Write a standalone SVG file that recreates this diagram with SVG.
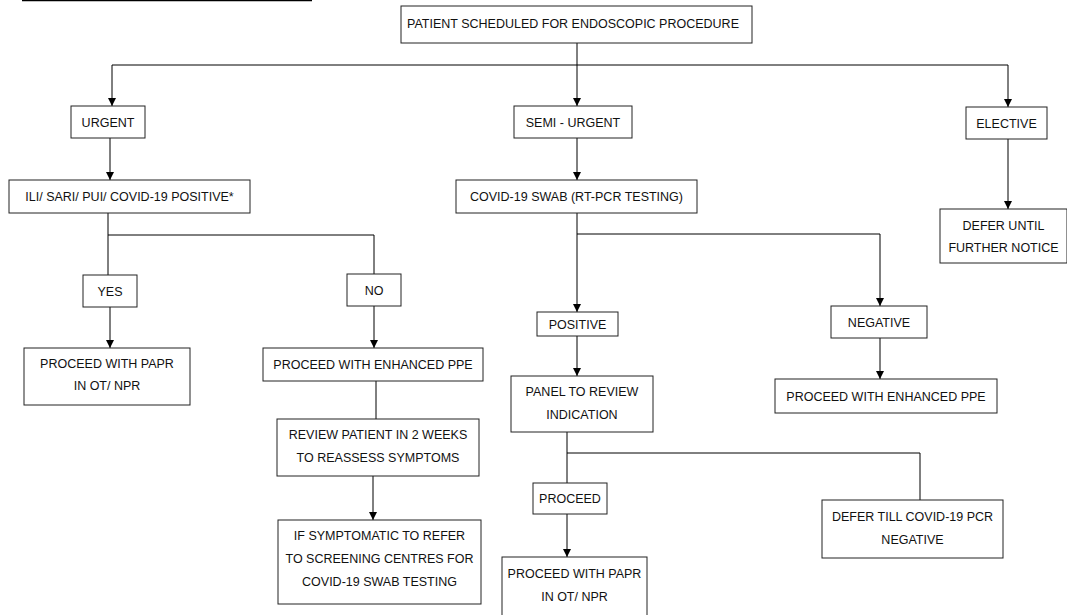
<svg xmlns="http://www.w3.org/2000/svg" width="1067" height="615" viewBox="0 0 1067 615">
<style>
.box rect{fill:#fff;stroke:#222;stroke-width:1}
.box text{font-family:"Liberation Sans",Arial,sans-serif;font-size:12.5px;fill:#111;text-anchor:middle}
.conn path{fill:none;stroke:#000;stroke-width:1}
</style>
<defs>
<marker id="ah" markerUnits="userSpaceOnUse" markerWidth="8" markerHeight="8" refX="8" refY="4" orient="auto">
<path d="M0,0 L8,4 L0,8 z" fill="#000"/>
</marker>
</defs>
<rect width="1067" height="615" fill="#fff"/>
<line x1="22" y1="0.5" x2="312" y2="0.5" stroke="#000" stroke-width="1.5"/>
<g class="conn">
<path d="M577,43 V65"/>
<path d="M112,65 H1008"/>
<path d="M112,65 V106" marker-end="url(#ah)"/>
<path d="M577,65 V106" marker-end="url(#ah)"/>
<path d="M1008,65 V107" marker-end="url(#ah)"/>
<path d="M110,138 V180" marker-end="url(#ah)"/>
<path d="M577,138 V180" marker-end="url(#ah)"/>
<path d="M1008,139 V209" marker-end="url(#ah)"/>
<path d="M108,213 V275"/>
<path d="M108,235 H374 V274"/>
<path d="M110,307 V348" marker-end="url(#ah)"/>
<path d="M374,306 V348" marker-end="url(#ah)"/>
<path d="M376,381 V419"/>
<path d="M373,476 V520" marker-end="url(#ah)"/>
<path d="M577,213 V312" marker-end="url(#ah)"/>
<path d="M577,234 H880 V306" marker-end="url(#ah)"/>
<path d="M577,336 V376" marker-end="url(#ah)"/>
<path d="M880,338 V379" marker-end="url(#ah)"/>
<path d="M567,432 V483"/>
<path d="M567,453 H920 V500"/>
<path d="M567,514 V557" marker-end="url(#ah)"/>
</g>
<g id="n-patient" class="box"><rect x="401" y="6" width="351" height="37"/><text x="573" y="27.5">PATIENT SCHEDULED FOR ENDOSCOPIC PROCEDURE</text></g>
<g id="n-urgent" class="box"><rect x="71" y="106" width="74" height="32"/><text x="108" y="126.5">URGENT</text></g>
<g id="n-semi" class="box"><rect x="514" y="106" width="118" height="32"/><text x="573" y="126.5">SEMI - URGENT</text></g>
<g id="n-elective" class="box"><rect x="966" y="107" width="81" height="32"/><text x="1006.5" y="127.5">ELECTIVE</text></g>
<g id="n-ili" class="box"><rect x="9" y="180" width="241" height="33"/><text x="129.5" y="201">ILI/ SARI/ PUI/ COVID-19 POSITIVE*</text></g>
<g id="n-swab" class="box"><rect x="456" y="180" width="241" height="33"/><text x="576.5" y="201">COVID-19 SWAB (RT-PCR TESTING)</text></g>
<g id="n-defer-notice" class="box"><rect x="940" y="209" width="127" height="54"/><text x="1003.5" y="230">DEFER UNTIL</text><text x="1003.5" y="252">FURTHER NOTICE</text></g>
<g id="n-yes" class="box"><rect x="83" y="275" width="54" height="32"/><text x="110" y="295.5">YES</text></g>
<g id="n-no" class="box"><rect x="347" y="274" width="54" height="32"/><text x="374" y="294.5">NO</text></g>
<g id="n-positive" class="box"><rect x="537" y="312" width="81" height="24"/><text x="577.5" y="328.5">POSITIVE</text></g>
<g id="n-negative" class="box"><rect x="831" y="306" width="96" height="32"/><text x="879" y="326.5">NEGATIVE</text></g>
<g id="n-papr1" class="box"><rect x="24" y="348" width="166" height="57"/><text x="107" y="368">PROCEED WITH PAPR</text><text x="107" y="390">IN OT/ NPR</text></g>
<g id="n-ppe1" class="box"><rect x="263" y="348" width="220" height="33"/><text x="373" y="369">PROCEED WITH ENHANCED PPE</text></g>
<g id="n-panel" class="box"><rect x="511" y="376" width="142" height="56"/><text x="582" y="396">PANEL TO REVIEW</text><text x="582" y="419">INDICATION</text></g>
<g id="n-ppe2" class="box"><rect x="775" y="379" width="222" height="34"/><text x="886" y="400.5">PROCEED WITH ENHANCED PPE</text></g>
<g id="n-review" class="box"><rect x="277" y="419" width="202" height="57"/><text x="378" y="439">REVIEW PATIENT IN 2 WEEKS</text><text x="378" y="462">TO REASSESS SYMPTOMS</text></g>
<g id="n-proceed" class="box"><rect x="533" y="483" width="74" height="31"/><text x="570" y="503">PROCEED</text></g>
<g id="n-defer-pcr" class="box"><rect x="822" y="500" width="181" height="58"/><text x="912.5" y="521">DEFER TILL COVID-19 PCR</text><text x="912.5" y="544">NEGATIVE</text></g>
<g id="n-symptomatic" class="box"><rect x="278" y="520" width="203" height="84"/><text x="379.5" y="540">IF SYMPTOMATIC TO REFER</text><text x="379.5" y="563">TO SCREENING CENTRES FOR</text><text x="379.5" y="586">COVID-19 SWAB TESTING</text></g>
<g id="n-papr2" class="box"><rect x="502" y="557" width="145" height="70"/><text x="574.5" y="578">PROCEED WITH PAPR</text><text x="574.5" y="601">IN OT/ NPR</text></g>
</svg>
